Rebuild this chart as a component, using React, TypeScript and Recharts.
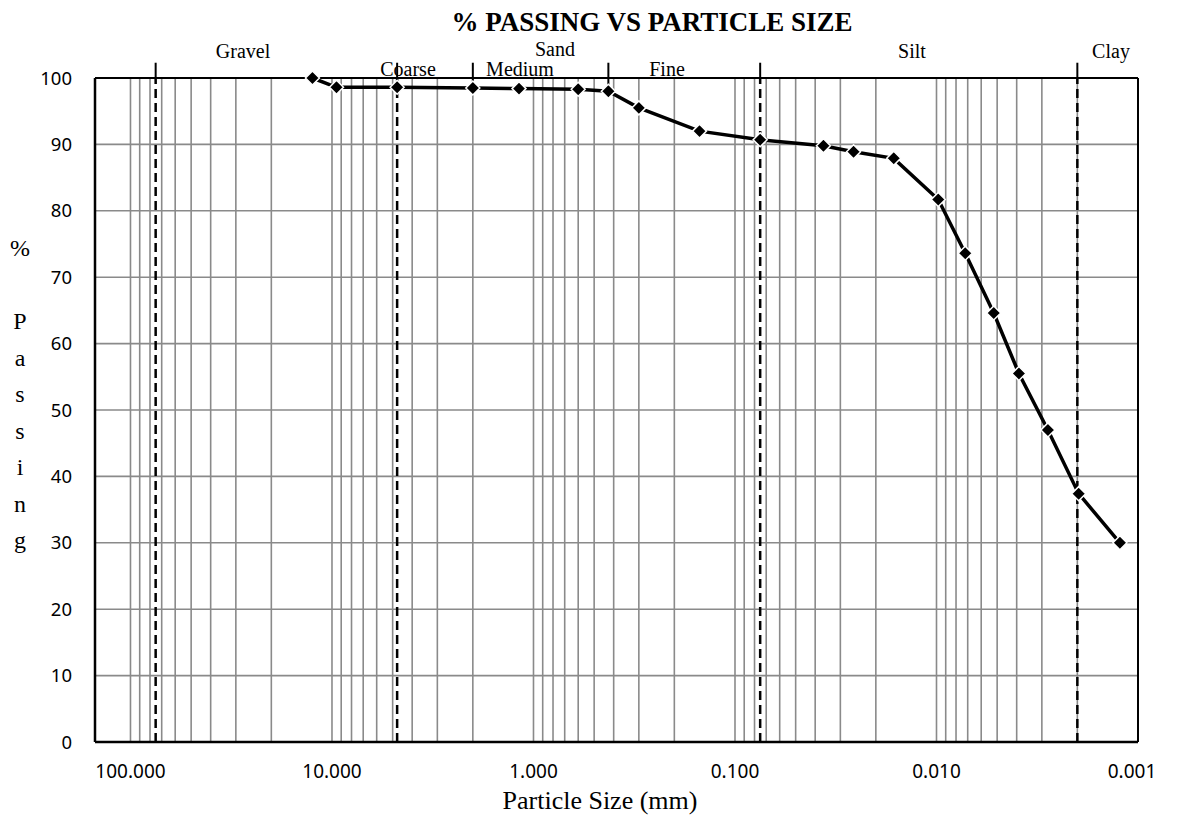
import React from 'react'
import {
  LineChart, Line, XAxis, YAxis, CartesianGrid, ReferenceLine, Customized,
} from 'recharts'

// sieve + hydrometer results
const sizes = [12.5, 9.5, 4.75, 2.0, 1.18, 0.6, 0.425, 0.3, 0.15, 0.075, 0.0364, 0.0258, 0.0163, 0.0098, 0.0072, 0.0052, 0.0039, 0.0028, 0.00197, 0.00123]
const passing = [100, 98.6, 98.6, 98.5, 98.4, 98.3, 98.0, 95.5, 92.0, 90.7, 89.8, 88.9, 87.9, 81.7, 73.6, 64.6, 55.5, 47.0, 37.4, 30.0]

// soil class boundaries (mm)
const dashedBounds = [75, 4.75, 0.075, 0.002]
const tickBounds = [2.0, 0.425]

const majorTicks = [100, 10, 1, 0.1, 0.01, 0.001]
const multipliers = [1, 2, 3, 4, 5, 6, 7, 8, 9]
const yTicks = [0, 10, 20, 30, 40, 50, 60, 70, 80, 90, 100]

const gridTicks: number[] = []
majorTicks.forEach((d) => {
  multipliers.forEach((m) => {
    const v = +(d * m).toPrecision(6)
    if (v <= 100 && !gridTicks.includes(v)) gridTicks.push(v)
  })
})

const data = sizes.map((s, i) => ({ size: s, passing: passing[i] }))

const SERIF = '"Liberation Serif", "DejaVu Serif", serif'
const SANS = '"Noto Sans", "Open Sans", sans-serif'

function isMajor(v: number) {
  const l = Math.log10(v)
  return Math.abs(l - Math.round(l)) < 1e-6
}

function XTick(props: any) {
  const { x, y, payload } = props
  if (!isMajor(payload.value)) return null
  // last label sits a bit inside the plot edge, like the original
  const dx = payload.value === 0.001 ? -6 : 0
  return (
    <text x={x + dx} y={y} dy="0.71em" textAnchor="middle" fill="#000" fontSize={19} fontFamily={SANS}>
      {payload.value.toFixed(3)}
    </text>
  )
}

function Diamond(props: any) {
  const { cx, cy } = props
  if (cx == null || cy == null) return null
  const r = 7
  return (
    <polygon
      points={`${cx},${cy - r} ${cx + r},${cy} ${cx},${cy + r} ${cx - r},${cy}`}
      fill="#000" stroke="#fff" strokeWidth={1.5}
    />
  )
}

const topLabels = [
  { t: 'Gravel', x: 243, y: 58 },
  { t: 'Sand', x: 555, y: 56 },
  { t: 'Coarse', x: 408, y: 76 },
  { t: 'Medium', x: 520, y: 76 },
  { t: 'Fine', x: 667, y: 76 },
  { t: 'Silt', x: 912, y: 58 },
  { t: 'Clay', x: 1111, y: 58 },
]

const yTitle = ['%', '', 'P', 'a', 's', 's', 'i', 'n', 'g']

function Annotations() {
  return (
    <g>
      <text x={652} y={31} textAnchor="middle" fontFamily={SERIF} fontWeight="bold" fontSize={27} fill="#000">
        % PASSING VS PARTICLE SIZE
      </text>
      {topLabels.map((l) => (
        <text key={l.t} x={l.x} y={l.y} textAnchor="middle" fontFamily={SERIF} fontSize={20} fill="#000">
          {l.t}
        </text>
      ))}
      <text x={600} y={809} textAnchor="middle" fontFamily={SERIF} fontSize={26} fill="#000">
        Particle Size (mm)
      </text>
      {yTitle.map((c, i) => (
        <text key={i} x={20} y={256 + i * 36.5} textAnchor="middle" fontFamily={SERIF} fontSize={24} fill="#000">
          {c}
        </text>
      ))}
    </g>
  )
}

export default function App() {
  return (
    <div style={{ position: 'absolute', left: 0, top: 0, background: '#fff' }}>
      <LineChart width={1181} height={817} data={data} margin={{ top: 78, right: 43, bottom: 0, left: 0 }}>
        <CartesianGrid stroke="#8a8a8a" strokeWidth={1.6} />
        <XAxis
          dataKey="size" type="number" scale="log" domain={[0.001, 150]} allowDataOverflow reversed
          ticks={gridTicks} interval={0} tick={<XTick />} tickLine={false}
          axisLine={{ stroke: '#000', strokeWidth: 2.5 }} height={75} tickSize={0} tickMargin={23}
        />
        <YAxis
          type="number" domain={[0, 100]} ticks={yTicks} interval={0} width={95}
          tick={{ fill: '#000', fontSize: 18.5, fontFamily: SANS }} tickLine={false} tickSize={0} tickMargin={23}
          axisLine={{ stroke: '#000', strokeWidth: 2.5 }}
        />
        <ReferenceLine y={100} stroke="#000" strokeWidth={2} />
        <ReferenceLine x={0.001} stroke="#000" strokeWidth={2} />
        {dashedBounds.map((b) => (
          <ReferenceLine key={'d' + b} x={b} stroke="#000" strokeWidth={2.5} strokeDasharray="9 5" />
        ))}
        {dashedBounds.map((b) => (
          <ReferenceLine key={'t' + b} segment={[{ x: b, y: 102.3 }, { x: b, y: 100 }]} stroke="#000" strokeWidth={2} ifOverflow="visible" />
        ))}
        {tickBounds.map((b) => (
          <ReferenceLine key={'s' + b} segment={[{ x: b, y: 102.3 }, { x: b, y: 98.2 }]} stroke="#000" strokeWidth={2} ifOverflow="visible" />
        ))}
        <Line
          dataKey="passing" stroke="#000" strokeWidth={3.5} dot={<Diamond />} activeDot={false}
          isAnimationActive={false}
        />
        <Customized component={<Annotations />} />
      </LineChart>
    </div>
  )
}
